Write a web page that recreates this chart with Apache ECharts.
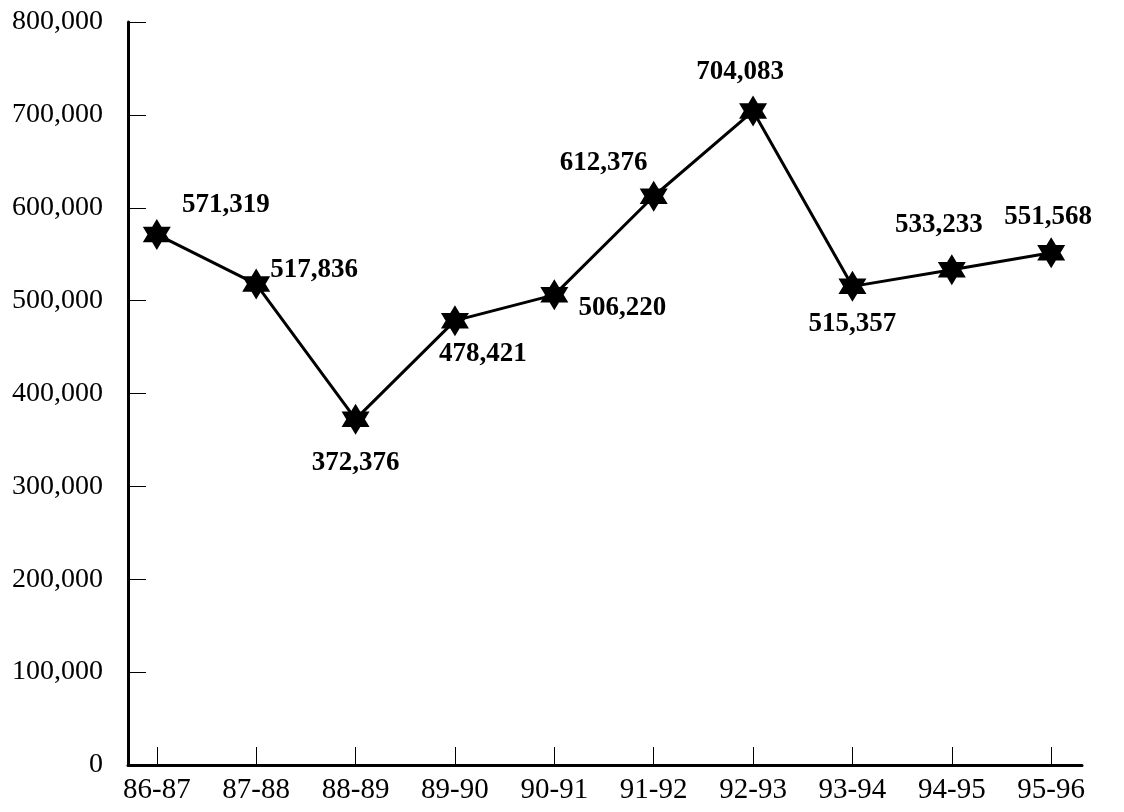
<!DOCTYPE html>
<html>
<head>
<meta charset="utf-8">
<script src="https://cdn.jsdelivr.net/npm/echarts@6/dist/echarts.min.js"></script>
<style>
  html, body { margin: 0; padding: 0; background: #fff; }
  #chart { width: 1124px; height: 812px; }
</style>
</head>
<body>
<div id="chart"></div>
<script>
// School years shown along the horizontal axis
const years = ['86-87', '87-88', '88-89', '89-90', '90-91', '91-92', '92-93', '93-94', '94-95', '95-96'];
// Yearly totals
const totals = [571319, 517836, 372376, 478421, 506220, 612376, 704083, 515357, 533233, 551568];
// Vertical axis ticks
const yTicks = [0, 100000, 200000, 300000, 400000, 500000, 600000, 700000, 800000];
// Where each value label sits relative to its point, in pixels
const labelOffsets = [[69, -29], [58, -14], [0, 44], [28, 33], [68, 13], [-50, -33], [-13, -39], [0, 38], [-13, -45], [-3, -36]];

const serif = 'Liberation Serif';
const fmt = v => v.toLocaleString('en-US');
const positions = years.map((_, i) => i);

// Six-pointed star used as the point marker
const hexagram = 'path://M0,-10 L2.887,-5 L8.66,-5 L5.774,0 L8.66,5 L2.887,5 L0,10 L-2.887,5 L-8.66,5 L-5.774,0 L-8.66,-5 L-2.887,-5 Z';

const chart = echarts.init(document.getElementById('chart'), null, { renderer: 'canvas' });
chart.setOption({
  backgroundColor: '#fff',
  animation: false,
  grid: { left: 128, right: 42, top: 22, bottom: 47, containLabel: false },
  xAxis: {
    type: 'value',
    min: -0.29,
    max: 9.31,
    splitLine: { show: false },
    axisLine: { show: true, onZero: false, lineStyle: { color: '#000', width: 3 } },
    axisTick: { show: true, inside: true, length: 18, customValues: positions, lineStyle: { color: '#000', width: 1 } },
    axisLabel: {
      customValues: positions,
      formatter: v => years[Math.round(v)],
      color: '#000', fontFamily: serif, fontSize: 29, margin: 11
    }
  },
  yAxis: {
    type: 'value',
    min: yTicks[0],
    max: yTicks[yTicks.length - 1],
    interval: yTicks[1] - yTicks[0],
    splitLine: { show: false },
    axisLine: { show: true, onZero: false, lineStyle: { color: '#000', width: 3 } },
    axisTick: { show: true, inside: true, length: 18, lineStyle: { color: '#000', width: 1 } },
    axisLabel: { formatter: fmt, color: '#000', fontFamily: serif, fontSize: 28, margin: 25 }
  },
  series: [{
    type: 'line',
    data: totals.map((v, i) => ({
      value: [i, v],
      label: { offset: labelOffsets[i] }
    })),
    symbol: hexagram,
    symbolSize: [28, 31],
    itemStyle: { color: '#000' },
    lineStyle: { color: '#000', width: 3 },
    label: {
      show: true,
      position: 'inside',
      formatter: p => fmt(p.value[1]),
      color: '#000',
      fontFamily: serif,
      fontWeight: 'bold',
      fontSize: 27
    }
  }]
});
</script>
</body>
</html>
